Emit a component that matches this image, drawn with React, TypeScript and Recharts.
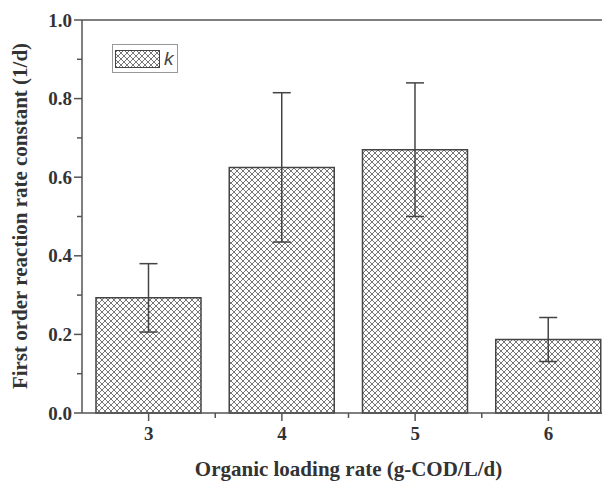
import React from 'react';
import {
    BarChart,
    Bar,
    XAxis,
    YAxis,
    ErrorBar,
    ReferenceLine,
} from 'recharts';

// loading rates (g-COD/L/d)
const rates = ['3', '4', '5', '6'];
// first order rate constant k (1/d)
const kValues = [0.293, 0.625, 0.67, 0.187];
// error (+/-)
const kErrors = [0.087, 0.19, 0.17, 0.056];
// y ticks, major + minor
const yTicks = [0, 0.1, 0.2, 0.3, 0.4, 0.5, 0.6, 0.7, 0.8, 0.9, 1.0];

const data = rates.map((r, i) => ({ name: r, k: kValues[i], err: kErrors[i] }));

const AXIS = '#555';
const FONT = '"Liberation Serif", "Times New Roman", serif';
const CHART_W = 640;
const CHART_H = 481;
const MARGIN = { top: 20, right: 25, left: 0, bottom: 0 };
const Y_WIDTH = 82;
const X_HEIGHT = 68;
const BAND = (CHART_W - MARGIN.right - Y_WIDTH) / rates.length;

const YTick = (props: any) => {
    const { x, y, payload } = props;
    const v = Math.round(payload.value * 10);
    const major = v % 2 === 0;
    return (
        <g>
            <line x1={x} x2={x - (major ? 8 : 5)} y1={y} y2={y} stroke={AXIS} strokeWidth={1.5} />
            {major && (
                <text x={x - 10} y={y + 6.5} textAnchor="end" fontFamily={FONT}
                    fontWeight="bold" fontSize={19} fill="#333">
                    {payload.value.toFixed(1)}
                </text>
            )}
        </g>
    );
};

const XTick = (props: any) => {
    const { x, y, payload } = props;
    return (
        <g>
            <line x1={x} x2={x} y1={y} y2={y + 8} stroke={AXIS} strokeWidth={1.5} />
            <line x1={x + BAND / 2} x2={x + BAND / 2} y1={y} y2={y + 5} stroke={AXIS} strokeWidth={1.5} />
            <text x={x} y={y + 27} textAnchor="middle" fontFamily={FONT}
                fontWeight="bold" fontSize={19} fill="#333">
                {payload.value}
            </text>
        </g>
    );
};

const LegendBox = () => (
    <svg width={66} height={29} style={{ display: 'block' }}>
        <rect x={0.5} y={0.5} width={65} height={28} fill="#fff" stroke="#999" />
        <rect x={3.5} y={6.5} width={44} height={17} fill="url(#hatch)" stroke="#444" />
        <text x={52} y={21} fontFamily='"Liberation Sans", Arial, sans-serif'
            fontStyle="italic" fontSize={19} fill="#444">k</text>
    </svg>
);

const App: React.FC = () => {
    return (
        <div style={{ position: 'absolute', left: 0, top: 0, width: 602, height: 481, overflow: 'hidden', background: '#fff' }}>
            <BarChart width={CHART_W} height={CHART_H} data={data} margin={MARGIN}
                barCategoryGap="10.5%">
                <defs>
                    <pattern id="hatch" width={6} height={6} patternUnits="userSpaceOnUse">
                        <rect width={6} height={6} fill="#fff" />
                        <path d="M0,0 L6,6 M6,0 L0,6" stroke="#777" strokeWidth={1} />
                    </pattern>
                </defs>
                <XAxis dataKey="name" height={X_HEIGHT} tickSize={0} tickMargin={0}
                    axisLine={{ stroke: AXIS, strokeWidth: 1.5 }} tickLine={false}
                    tick={<XTick />} interval={0}
                    label={{
                        content: () => (
                            <text x={Y_WIDTH + (CHART_W - MARGIN.right - Y_WIDTH) / 2} y={476}
                                textAnchor="middle" fontFamily={FONT} fontWeight="bold"
                                fontSize={21} fill="#333">
                                Organic loading rate (g-COD/L/d)
                            </text>
                        ),
                    }}
                />
                <YAxis type="number" domain={[0, 1]} ticks={yTicks} interval={0} width={Y_WIDTH}
                    tickSize={0} tickMargin={0} tickLine={false}
                    axisLine={{ stroke: AXIS, strokeWidth: 1.5 }} tick={<YTick />}
                    label={{
                        content: () => (
                            <text x={22} y={216} transform="rotate(-90 22 216)"
                                dominantBaseline="middle"
                                textAnchor="middle" fontFamily={FONT} fontWeight="bold"
                                fontSize={21} fill="#333">
                                First order reaction rate constant (1/d)
                            </text>
                        ),
                    }}
                />
                <ReferenceLine y={1} stroke={AXIS} strokeWidth={1.5} />
                <Bar dataKey="k" name="k" fill="url(#hatch)" stroke="#444" strokeWidth={1.5}
                    isAnimationActive={false}>
                    <ErrorBar dataKey="err" width={9} stroke="#444" strokeWidth={1.5}
                        direction="y" isAnimationActive={false} />
                </Bar>
            </BarChart>
            <div style={{ position: 'absolute', left: 112, top: 44 }}>
                <LegendBox />
            </div>
        </div>
    );
};

export default App;
